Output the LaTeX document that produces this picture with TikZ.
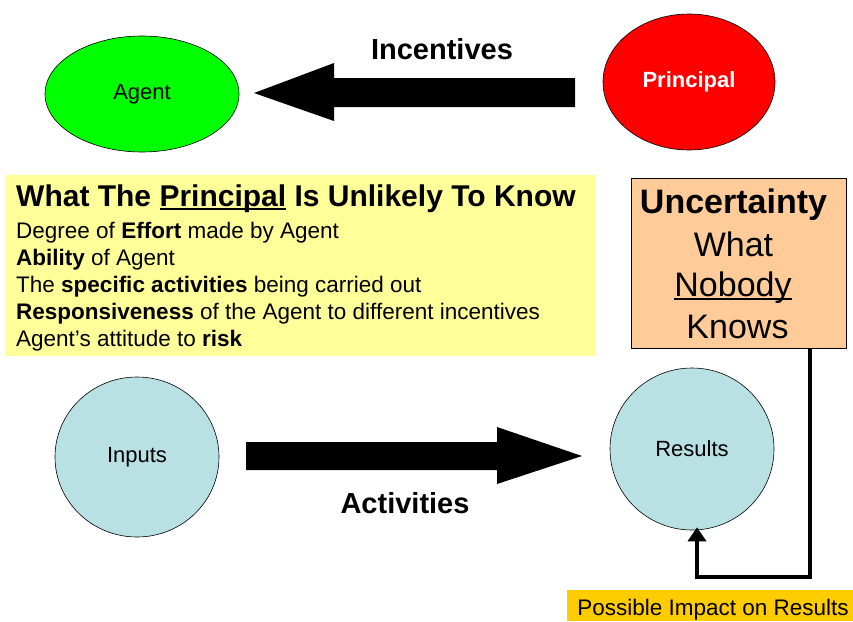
\documentclass[tikz,border=0pt]{standalone}
\usepackage{fontspec}
\setmainfont{Liberation Sans}
\usetikzlibrary{arrows.meta,calc,shapes.geometric}
\definecolor{agentgreen}{HTML}{00FF00}
\definecolor{princred}{HTML}{FF0000}
\definecolor{lightyel}{HTML}{FFFF99}
\definecolor{peach}{HTML}{FFCC99}
\definecolor{gold}{HTML}{FFCC00}
\definecolor{paleblue}{HTML}{B9E0E3}
\newsavebox{\myulbox}
\newcommand{\thickul}[1]{\sbox{\myulbox}{#1}\rlap{\rule[-4pt]{\wd\myulbox}{2.2pt}}\usebox{\myulbox}}
\tikzset{
  blob/.style={draw=black, line width=0.6pt, ellipse, inner sep=0pt, font=\fontsize{22}{24}\selectfont},
  bigarrow/.style={fill=black},
  biglbl/.style={anchor=base, inner sep=0pt, font=\fontsize{29}{32}\selectfont\bfseries},
  bodyline/.style={anchor=base west, inner sep=0pt, font=\fontsize{22.5}{24}\selectfont},
  unctext/.style={anchor=base, inner sep=0pt, font=\fontsize{34}{38}\selectfont},
}
\begin{document}
\begin{tikzpicture}[x=1pt,y=-1pt]
\useasboundingbox (0,0) rectangle (853,621);
% top ellipses
\node[blob, fill=agentgreen, minimum width=194pt, minimum height=116pt] (agent) at (142,94) {Agent};
\node[blob, fill=princred, text=white, font=\fontsize{22}{24}\selectfont\bfseries, minimum width=172pt, minimum height=136pt] (principal) at (689,82) {Principal};
% incentives arrow
\fill[bigarrow] (575,78) -- (334,78) -- (334,63) -- (254,93) -- (334,121) -- (334,107) -- (575,107) -- cycle;
\node[biglbl] (incentives) at (442,59) {Incentives};
% yellow box
\fill[lightyel] (5,175) rectangle (596,356);
\node[anchor=base west, inner sep=0pt, font=\fontsize{30}{32}\selectfont\bfseries] (title) at (16,206) {What The \thickul{Principal} Is Unlikely To Know};
\node[bodyline] (l1) at (16,238) {Degree of \textbf{Effort} made by Agent};
\node[bodyline] (l2) at (16,265) {\textbf{Ability} of Agent};
\node[bodyline] (l3) at (16,292) {The \textbf{specific activities} being carried out};
\node[bodyline] (l4) at (16,319) {\textbf{Responsiveness} of the Agent to different incentives};
\node[bodyline] (l5) at (16,346) {Agent’s attitude to \textbf{risk}};
% uncertainty box
\draw[fill=peach, line width=0.6pt] (631,178) rectangle (846,348);
\node[unctext, font=\fontsize{34}{38}\selectfont\bfseries] (u1) at (733.5,213) {Uncertainty};
\node[unctext] (u2) at (733.5,256) {What};
\node[unctext] (u3) at (733,296) {\thickul{Nobody}};
\node[unctext] (u4) at (737.5,338) {Knows};
% bottom circles
\node[blob, fill=paleblue, minimum width=164pt, minimum height=160pt] (inputs) at (137,457) {Inputs};
\node[blob, fill=paleblue, minimum width=164pt, minimum height=162pt] (results) at (692,449) {Results};
% activities arrow
\fill[bigarrow] (246,442) -- (497,442) -- (497,427) -- (582,456) -- (497,484) -- (497,470) -- (246,470) -- cycle;
\node[biglbl] (activities) at (405,513) {Activities};
% feedback connector
\coordinate (fbtop) at (810,348);
\coordinate (fbcorner) at (810,577);
\draw[line width=4.5pt, -{Triangle[length=14pt,width=18pt]}] (fbtop) -- (fbcorner) -| ([xshift=5pt,yshift=3pt]results.south);
% possible impact
\fill[gold] (567,590) rectangle (853,621);
\node[font=\fontsize{22.5}{24}\selectfont, anchor=base, inner sep=0pt] (impact) at (713,615) {Possible Impact on Results};
\end{tikzpicture}
\end{document}
